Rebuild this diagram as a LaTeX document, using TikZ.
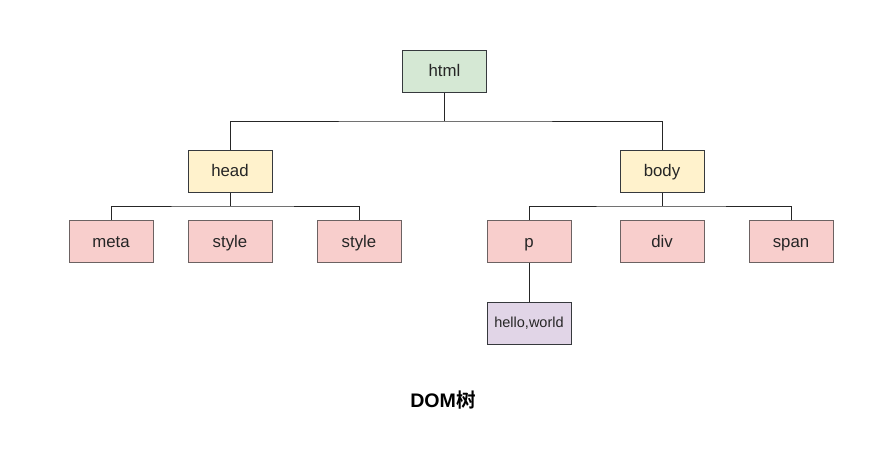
\documentclass[tikz,border=0pt]{standalone}
\usepackage{fontspec}
\setmainfont{Liberation Sans}
\newfontfamily\cjkfont{Noto Sans CJK SC}[BoldFont={Noto Sans CJK SC Bold}]
\definecolor{gfill}{HTML}{D5E8D4}
\definecolor{yfill}{HTML}{FFF2CC}
\definecolor{rfill}{HTML}{F8CECC}
\definecolor{pfill}{HTML}{E1D5E7}
\definecolor{bord}{HTML}{36393D}
\definecolor{rbord}{HTML}{6C6262}
\tikzset{
  box/.style={draw=bord, line width=1pt, minimum width=84pt, minimum height=42pt, inner sep=0pt, font=\fontsize{16.8}{20}\selectfont, text=black!85, text height=13.5pt, text depth=2pt},
  gbox/.style={box, fill=gfill},
  ybox/.style={box, fill=yfill},
  rbox/.style={box, fill=rfill, draw=rbord},
  pbox/.style={box, fill=pfill, font=\fontsize{14.5}{17}\selectfont, text height=11.5pt, text depth=2pt},
  conn/.style={draw=black!85, line width=0.9pt}
}
\begin{document}
\begin{tikzpicture}[x=1pt,y=-1pt]
\useasboundingbox (0,0) rectangle (883,463);
\node[gbox] (html) at (444.5,71) {html};
\node[ybox] (head) at (230,171) {head};
\node[ybox] (body) at (662,171) {body};
\node[rbox] (meta) at (111,241.5) {meta};
\node[rbox] (style1) at (230,241.5) {style};
\node[rbox] (style2) at (359,241.5) {style};
\node[rbox] (p) at (529,241.5) {p};
\node[rbox] (div) at (662,241.5) {div};
\node[rbox] (span) at (791,241.5) {span};
\node[pbox] (hello) at (529,323) {hello,world};
\node[font=\fontsize{19.6}{22}\selectfont\bfseries] (title) at (443,400) {DOM\cjkfont\bfseries 树};

\coordinate (j1) at (444.5,121);
\coordinate (j2) at (230,206);
\coordinate (j3) at (662,206);

\draw[conn] (html.south) -- (j1);
\draw[conn] (head.north) |- (j1) -| (body.north);
\draw[conn] (head.south) -- (j2);
\draw[conn] (meta.north) |- (j2) -| (style2.north);
\draw[conn] (body.south) -- (j3);
\draw[conn] (p.north) |- (j3) -| (span.north);
\draw[conn] (p.south) -- (hello.north);
\end{tikzpicture}
\end{document}
